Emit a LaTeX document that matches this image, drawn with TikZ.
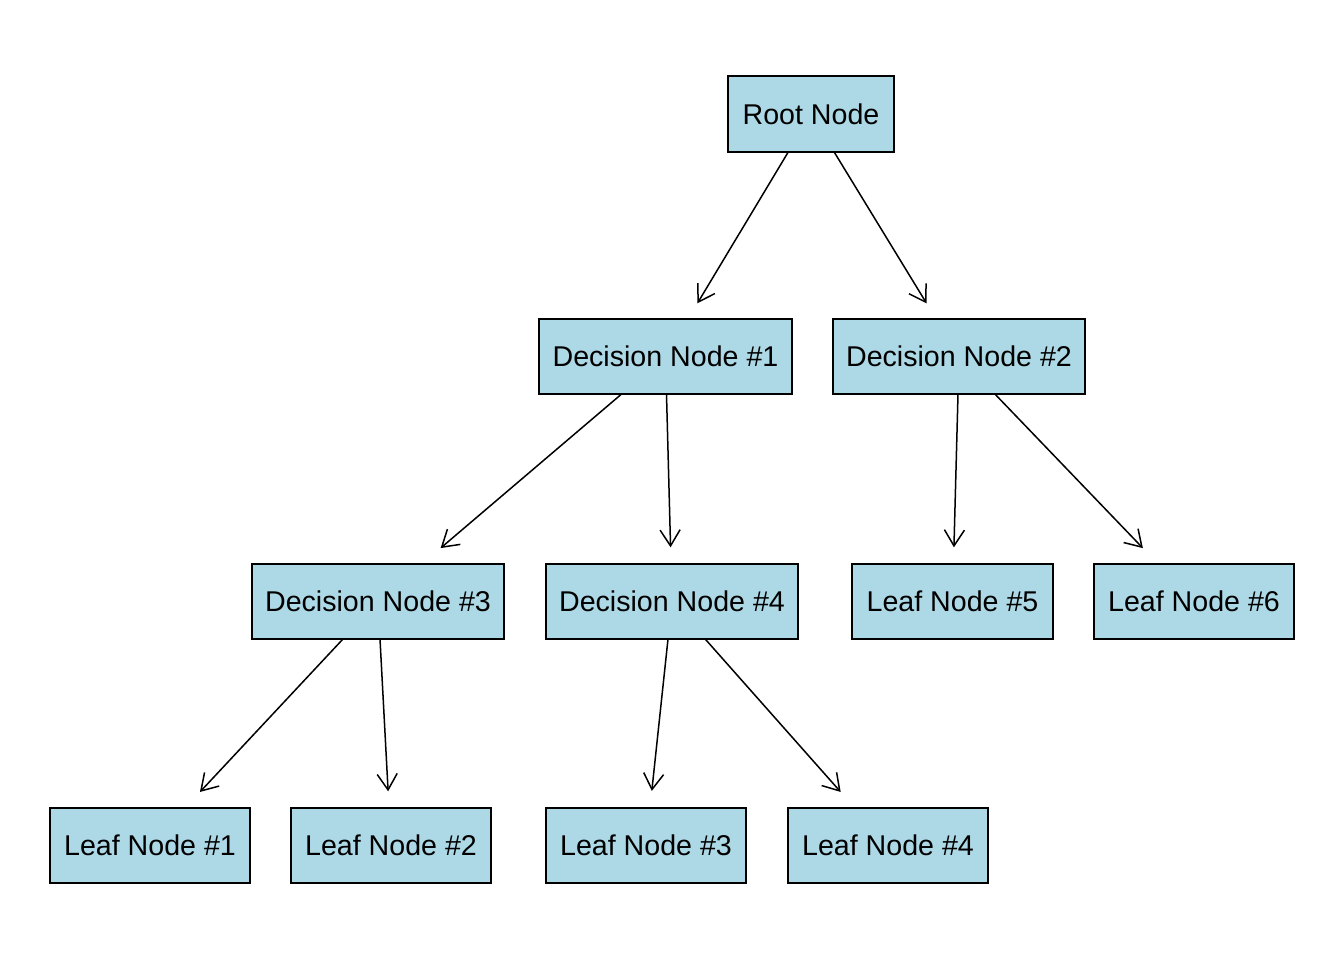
\documentclass[tikz,border=0pt]{standalone}
\usepackage{fontspec}
\setmainfont{Liberation Sans}
\usetikzlibrary{arrows.meta}
\definecolor{boxfill}{HTML}{ADD8E6}
\begin{document}
\begin{tikzpicture}[x=1pt,y=-1pt,
  box/.style={draw=black,fill=boxfill,line width=1.4pt,inner sep=0pt,
    font=\fontsize{28.6}{34}\selectfont,text height=20.5pt,text depth=0pt},
  conn/.style={line width=1.5pt,-{Straight Barb[length=16pt,width=20pt,line width=1.5pt]}}]
\useasboundingbox (0,0) rectangle (1344,960);
\node[box,minimum width=166pt,minimum height=76pt] (root) at (811,114) {Root Node};
\node[box,minimum width=253pt,minimum height=75pt] (d1) at (665.5,356.5) {Decision Node \#1};
\node[box,minimum width=252pt,minimum height=75pt] (d2) at (959,356.5) {Decision Node \#2};
\node[box,minimum width=252pt,minimum height=75pt] (d3) at (378,601.5) {Decision Node \#3};
\node[box,minimum width=252pt,minimum height=75pt] (d4) at (672,601.5) {Decision Node \#4};
\node[box,minimum width=201pt,minimum height=75pt] (l5) at (952.5,601.5) {Leaf Node \#5};
\node[box,minimum width=200pt,minimum height=75pt] (l6) at (1194,601.5) {Leaf Node \#6};
\node[box,minimum width=200pt,minimum height=75pt] (l1) at (150,845.5) {Leaf Node \#1};
\node[box,minimum width=200pt,minimum height=75pt] (l2) at (391,845.5) {Leaf Node \#2};
\node[box,minimum width=200pt,minimum height=75pt] (l3) at (646,845.5) {Leaf Node \#3};
\node[box,minimum width=200pt,minimum height=75pt] (l4) at (888,845.5) {Leaf Node \#4};
\draw[conn,shorten >=17.5pt] (root) -- (d1);
\draw[conn,shorten >=17.5pt] (root) -- (d2);
\draw[conn,shorten >=23.5pt] (d1) -- (d3);
\draw[conn,shorten >=16pt] (d1) -- (d4);
\draw[conn,shorten >=16pt] (d2) -- (l5);
\draw[conn,shorten >=21pt] (d2) -- (l6);
\draw[conn,shorten >=21pt] (d3) -- (l1);
\draw[conn,shorten >=16pt] (d3) -- (l2);
\draw[conn,shorten >=16.5pt] (d4) -- (l3);
\draw[conn,shorten >=20.5pt] (d4) -- (l4);
\end{tikzpicture}
\end{document}
